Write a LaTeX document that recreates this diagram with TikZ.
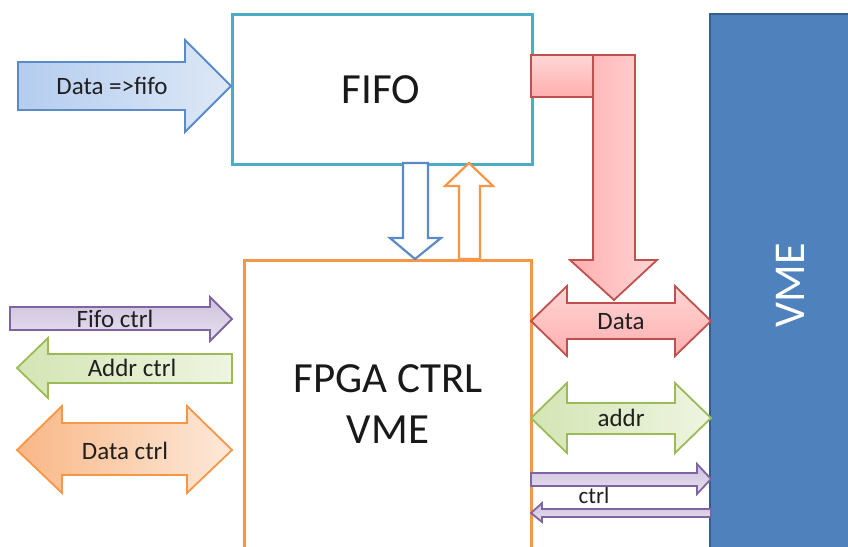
\documentclass[tikz,border=0pt]{standalone}
\usepackage{fontspec}
\setmainfont{Carlito}
\definecolor{fifoteal}{HTML}{4BACC6}
\definecolor{fpgaor}{HTML}{F79646}
\definecolor{vmefill}{HTML}{4F81BD}
\definecolor{vmedraw}{HTML}{385D8A}
\definecolor{bluedraw}{HTML}{5B8AC6}
\definecolor{blueA}{HTML}{B4CDEF}
\definecolor{blueB}{HTML}{DDE8F6}
\definecolor{purdraw}{HTML}{8064A2}
\definecolor{purA}{HTML}{CDC1DD}
\definecolor{purB}{HTML}{E7E1EF}
\definecolor{grndraw}{HTML}{9BBB59}
\definecolor{grnA}{HTML}{D4E5B4}
\definecolor{grnB}{HTML}{EEF5E1}
\definecolor{ordraw}{HTML}{F79646}
\definecolor{orA}{HTML}{F9B787}
\definecolor{orB}{HTML}{FDE9D9}
\definecolor{reddraw}{HTML}{C0504D}
\definecolor{redA}{HTML}{FFAEAE}
\definecolor{redB}{HTML}{FFD6D6}
\tikzset{
  lbl/.style={font=\fontsize{25}{29}\selectfont, text=black!88, inner sep=0pt},
  big/.style={font=\fontsize{43}{51}\selectfont, text=black!90, align=center},
  blk/.style={line width=1.8pt, line join=miter},
  bluearr/.style={blk, draw=bluedraw, left color=blueA, right color=blueB},
  purarr/.style={blk, draw=purdraw, top color=purA, bottom color=purB},
  grnarr/.style={blk, draw=grndraw, left color=grnA, right color=grnB},
  orarr/.style={blk, draw=ordraw, left color=orA, right color=orB},
  redarrV/.style={blk, draw=reddraw, left color=redA, right color=redB},
  redarrH/.style={blk, draw=reddraw, top color=redB, bottom color=redA},
  hollowB/.style={line width=2.2pt, draw=bluedraw, fill=white, line join=miter},
  hollowO/.style={line width=2.2pt, draw=fpgaor, fill=white, line join=miter},
}
\begin{document}
\begin{tikzpicture}[x=1pt, y=-1pt]
\clip (0,0) rectangle (848,546);
\fill[white] (0,0) rectangle (848,546);

% VME bus
\node[draw=vmedraw, fill=vmefill, line width=2pt, minimum width=150pt, minimum height=560pt, anchor=north west] (vme) at (709,13) {};
\node[rotate=90, font=\fontsize{44}{52}\selectfont, text=white] (vmet) at (790,285) {VME};

% FIFO box
\node[draw=fifoteal, fill=white, line width=3pt, minimum width=300pt, minimum height=150pt, anchor=north west] (fifo) at (231,13) {};
\node[big] (fifot) at (381,90) {FIFO};

% FPGA box
\node[draw=fpgaor, fill=white, line width=3pt, minimum width=287pt, minimum height=320pt, anchor=north west] (fpga) at (243,259) {};
\node[big] (fpgat) at (388,404) {FPGA CTRL\\VME};

% Data => fifo
\draw[bluearr] (18,62) -- (185,62) -- (185,40) -- (231,86) -- (185,132) -- (185,110) -- (18,110) -- cycle;
\node[lbl] (l1) at (112,86) {Data =>fifo};

% FIFO <-> FPGA hollow arrows
\draw[hollowB] (403,163) -- (428,163) -- (428,238) -- (441,238) -- (415,259) -- (390,238) -- (403,238) -- cycle;
\draw[hollowO] (459,259) -- (480,259) -- (480,186) -- (493,186) -- (469,163) -- (445,186) -- (459,186) -- cycle;

% red bent arrow
\draw[redarrH] (531,55) -- (593,55) -- (593,97) -- (531,97) -- cycle;
\draw[redarrV] (593,55) -- (635,55) -- (635,260) -- (657,260) -- (614,300) -- (570,260) -- (593,260) -- cycle;

% Data double arrow
\draw[blk, draw=reddraw, top color=redB, bottom color=redA] (531,321) -- (567,286) -- (567,303) -- (675,303) -- (675,286) -- (711,321) -- (675,356) -- (675,339) -- (567,339) -- (567,356) -- cycle;
\node[lbl] (l2) at (621,322) {Data};

% addr double arrow
\draw[grnarr] (531,418) -- (567,383) -- (567,403) -- (675,403) -- (675,383) -- (711,418) -- (675,453) -- (675,434) -- (567,434) -- (567,453) -- cycle;
\node[lbl] (l3) at (621,418) {addr};

% ctrl arrows
\draw[purarr] (531,473) -- (697,473) -- (697,464) -- (711,479) -- (697,494) -- (697,486) -- (531,486) -- cycle;
\draw[purarr] (711,509) -- (542,509) -- (542,503) -- (531,513) -- (542,522) -- (542,517) -- (711,517) -- cycle;
\node[lbl, font=\fontsize{23}{27}\selectfont] (l4) at (594,496) {ctrl};

% left side arrows
\draw[purarr] (10,307) -- (210,307) -- (210,297) -- (232,319) -- (210,341) -- (210,330) -- (10,330) -- cycle;
\node[lbl] (l5) at (115,319) {Fifo ctrl};

\draw[grnarr] (232,354) -- (48,354) -- (48,338) -- (17,368) -- (48,398) -- (48,383) -- (232,383) -- cycle;
\node[lbl] (l6) at (132,368) {Addr ctrl};

\draw[orarr] (17,450) -- (62,406) -- (62,423) -- (187,423) -- (187,406) -- (232,450) -- (187,493) -- (187,475) -- (62,475) -- (62,493) -- cycle;
\node[lbl] (l7) at (125,451) {Data ctrl};
\end{tikzpicture}
\end{document}
